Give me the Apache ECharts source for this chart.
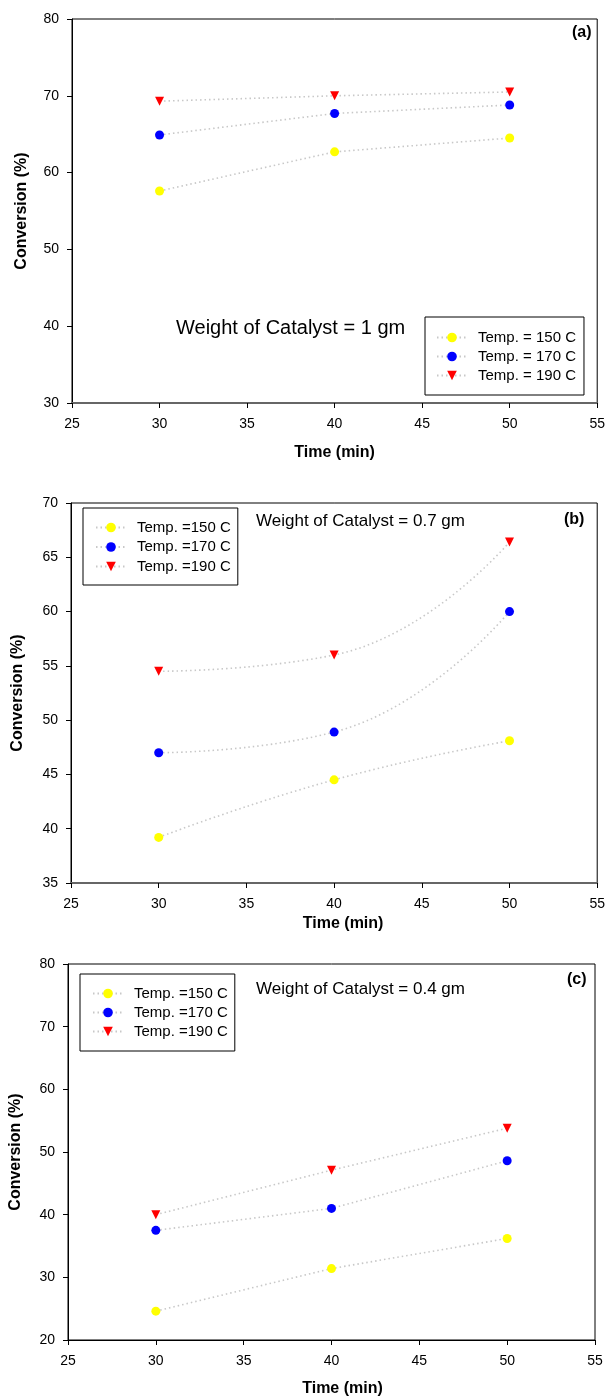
<!DOCTYPE html>
<html>
<head>
<meta charset="utf-8">
<script src="https://cdn.jsdelivr.net/npm/echarts@6/dist/echarts.min.js"></script>
<style>
html,body{margin:0;padding:0;background:#fff;}
#chart{width:608px;height:1399px;}
</style>
</head>
<body>
<div id="chart"></div>
<script>
// ---- data ----
const times = [30, 40, 50];
const legendA = ['Temp. = 150 C', 'Temp. = 170 C', 'Temp. = 190 C'];
const legendBC = ['Temp. =150 C', 'Temp. =170 C', 'Temp. =190 C'];
// Panel (a): weight of catalyst = 1 gm
const convA150 = [57.6, 62.7, 64.5];
const convA170 = [64.9, 67.7, 68.8];
const convA190 = [69.3, 70.0, 70.5];
// Panel (b): weight of catalyst = 0.7 gm
const convB150 = [39.2, 44.5, 48.1];
const convB170 = [47.0, 48.9, 60.0];
const convB190 = [54.5, 56.0, 66.4];
// Panel (c): weight of catalyst = 0.4 gm
const convC150 = [24.6, 31.4, 36.2];
const convC170 = [37.5, 41.0, 48.6];
const convC190 = [40.0, 47.1, 53.8];
const panelTitles = ['Weight of Catalyst = 1 gm', 'Weight of Catalyst = 0.7 gm', 'Weight of Catalyst = 0.4 gm'];
const panelTags = ['(a)', '(b)', '(c)'];
const xTitle = 'Time (min)';
const yTitle = 'Conversion (%)';

const FONT = '"Liberation Sans", Arial, sans-serif';
const chart = echarts.init(document.getElementById('chart'), null, {renderer: 'canvas'});

const grids = [
  {left: 72, right: 9, top: 19, height: 384},
  {left: 71, right: 9, top: 503, height: 380},
  {left: 66, right: 13, top: 964, height: 376}
];
const yRanges = [[30, 80, 10], [35, 70, 5], [20, 80, 10]];
const xNameGap = [42, 33, 41];
const xNamePad = [0, 18, 22];
const yNameGap = [42, 45, 44];
const bottomColor = ['#666', '#666', '#000'];
const bottomWidth = [2, 2, 1];

const xAxes = grids.map((g, i) => ({
  gridIndex: i, type: 'value', min: 25, max: 55, interval: 5,
  name: xTitle, nameLocation: 'middle', nameGap: xNameGap[i],
  nameTextStyle: {fontFamily: FONT, fontSize: 16, fontWeight: 'bold', color: '#000', padding: [0, 0, 0, xNamePad[i]]},
  axisLine: {show: true, onZero: false, lineStyle: {color: bottomColor[i], width: bottomWidth[i]}},
  axisTick: {show: true, inside: false, length: 5, lineStyle: {color: '#000'}},
  axisLabel: {fontFamily: FONT, fontSize: 14, color: '#000', margin: 14},
  splitLine: {show: false}
}));
const yAxes = grids.map((g, i) => ({
  gridIndex: i, type: 'value', min: yRanges[i][0], max: yRanges[i][1], interval: yRanges[i][2],
  name: yTitle, nameLocation: 'middle', nameGap: yNameGap[i],
  nameTextStyle: {fontFamily: FONT, fontSize: 16, fontWeight: 'bold', color: '#000'},
  axisLine: {show: true, onZero: false, lineStyle: {color: '#000', width: 1}},
  axisTick: {show: true, inside: false, length: 5, lineStyle: {color: '#000'}},
  axisLabel: {fontFamily: FONT, fontSize: 14, color: '#000', margin: 13},
  splitLine: {show: false}
}));

const seriesDefs = [
  [convA150, convA170, convA190],
  [convB150, convB170, convB190],
  [convC150, convC170, convC190]
];
const colors = ['#ffff00', '#0000ff', '#ff0000'];
const symbols = ['circle', 'circle', 'triangle'];
const smoothness = [false, 0.5, false];
const series = [];
seriesDefs.forEach((grp, p) => {
  grp.forEach((vals, k) => {
    series.push({
      type: 'line',
      name: (p === 0 ? legendA : legendBC)[k],
      xAxisIndex: p, yAxisIndex: p,
      data: times.map((t, j) => [t, vals[j]]),
      smooth: smoothness[p],
      symbol: symbols[k],
      symbolRotate: k === 2 ? 180 : 0,
      symbolSize: k === 2 ? 9 : 9,
      itemStyle: {color: colors[k], borderWidth: 0},
      lineStyle: {color: '#c8c8c8', width: 1.6, type: [1.5, 3]},
      z: 3 + k,
      animation: false
    });
  });
});

const legendBase = {
  orient: 'vertical', itemWidth: 30, itemHeight: 12, itemGap: 4,
  borderColor: '#000', borderWidth: 1, backgroundColor: '#fff', borderRadius: 0,
  textStyle: {fontFamily: FONT, fontSize: 15, color: '#000', padding: [0, 0, 0, 6]},
  selectedMode: false
};
const legends = [
  Object.assign({}, legendBase, {left: 425, top: 317, padding: [13, 8, 12, 11], data: legendA}),
  Object.assign({}, legendBase, {left: 83, top: 508, padding: [12, 7, 11, 12], itemGap: 4.5, data: legendBC}),
  Object.assign({}, legendBase, {left: 80, top: 974, padding: [12, 7, 12, 12], data: legendBC})
];

const titles = [
  {text: panelTitles[0], left: 176, top: 318, textStyle: {fontFamily: FONT, fontSize: 20, fontWeight: 'normal', color: '#000'}},
  {text: panelTitles[1], left: 256, top: 513, textStyle: {fontFamily: FONT, fontSize: 17, fontWeight: 'normal', color: '#000'}},
  {text: panelTitles[2], left: 256, top: 981, textStyle: {fontFamily: FONT, fontSize: 17, fontWeight: 'normal', color: '#000'}},
  {text: panelTags[0], left: 572, top: 25, textStyle: {fontFamily: FONT, fontSize: 16, fontWeight: 'bold', color: '#000'}},
  {text: panelTags[1], left: 564, top: 512, textStyle: {fontFamily: FONT, fontSize: 16, fontWeight: 'bold', color: '#000'}},
  {text: panelTags[2], left: 567, top: 972, textStyle: {fontFamily: FONT, fontSize: 16, fontWeight: 'bold', color: '#000'}}
].map(t => Object.assign({padding: 0}, t));

chart.setOption({
  animation: false,
  backgroundColor: '#fff',
  title: titles,
  legend: legends,
  grid: grids.map(g => Object.assign({show: true, borderColor: '#000', borderWidth: 1, backgroundColor: 'transparent', containLabel: false}, g)),
  xAxis: xAxes,
  yAxis: yAxes,
  series: series
});
</script>
</body>
</html>
